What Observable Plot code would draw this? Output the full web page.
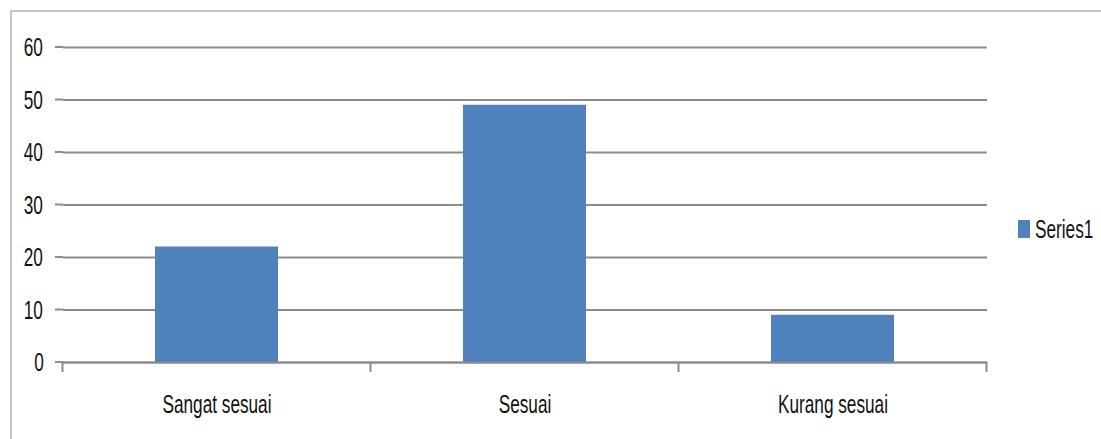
<!DOCTYPE html>
<html>
<head>
<meta charset="utf-8">
<script src="https://cdn.jsdelivr.net/npm/d3@7"></script>
<script src="https://cdn.jsdelivr.net/npm/@observablehq/plot@0.6"></script>
<style>
  html, body { margin: 0; padding: 0; background: #fff; }
  #wrap { position: relative; width: 1101px; height: 439px; overflow: hidden; font-family: "Liberation Sans", Arial, sans-serif; }
  #frame { position: absolute; left: 10px; top: 10px; width: 1200px; height: 600px; border: 2px solid #c4c4c4; box-sizing: border-box; }
  #chart { position: absolute; left: 0; top: 0; }
  #legend { position: absolute; left: 1018px; top: 220px; height: 18px; display: flex; align-items: center; font-size: 20px; color: #111; }
  #legend .sw { width: 12px; height: 18px; background: #4F81BD; margin-right: 5px; }
  #legend span { display: inline-block; transform: scale(0.86, 1.3); transform-origin: left center; }
</style>
</head>
<body>
<div id="wrap">
  <div id="frame"></div>
  <div id="chart"></div>
  <div id="legend"><div class="sw"></div><span></span></div>
</div>
<script>
const categories = ["Sangat sesuai", "Sesuai", "Kurang sesuai"];
const values = [22, 49, 9];
const yTicks = [0, 10, 20, 30, 40, 50, 60];
const seriesName = "Series1";

const data = categories.map((c, i) => ({category: c, value: values[i]}));

const chart = Plot.plot({
  width: 1101,
  height: 439,
  marginLeft: 63,
  marginRight: 114,
  marginTop: 47,
  marginBottom: 77,
  style: {fontFamily: "'Liberation Sans', Arial, sans-serif", fontSize: "20px", color: "#111", background: "transparent"},
  x: {domain: categories, paddingInner: 0.6, paddingOuter: 0.3, label: null},
  y: {domain: [0, 60], ticks: yTicks, label: null},
  marks: [
    Plot.gridY(yTicks, {stroke: "#8c8c8c", strokeOpacity: 1, strokeWidth: 2}),
    Plot.barY(data, {x: "category", y: "value", fill: "#4F81BD"}),
    Plot.axisY({ticks: yTicks, tickSize: 0, tickPadding: 19, fontSize: 20}),
    Plot.axisX({tickSize: 0, tickPadding: 34, fontSize: 20}),
    Plot.ruleY([0], {stroke: "#8c8c8c", strokeWidth: 2}),
    Plot.ruleX([0], {frameAnchor: "left", y1: 0, y2: 60, stroke: "#8c8c8c", strokeWidth: 2})
  ]
});
document.getElementById("chart").appendChild(chart);

const xs = chart.scale("x");
const ys = chart.scale("y");
const svg = d3.select(chart);
const step = xs.step;
const bounds = categories.map(c => xs.apply(c) - (step - xs.bandwidth) / 2);
bounds.push(bounds[bounds.length - 1] + step);
svg.append("g").selectAll("line").data(bounds).join("line")
  .attr("x1", d => d).attr("x2", d => d)
  .attr("y1", ys.apply(0)).attr("y2", ys.apply(0) + 10)
  .attr("stroke", "#8c8c8c").attr("stroke-width", 2);
svg.append("g").selectAll("line").data(yTicks).join("line")
  .attr("x1", 55).attr("x2", 63)
  .attr("y1", d => ys.apply(d)).attr("y2", d => ys.apply(d))
  .attr("stroke", "#8c8c8c").attr("stroke-width", 2);

// condense/stretch text to mimic the tall narrow original font
const sx = 0.86, sy = 1.32;
chart.querySelectorAll("text").forEach(t => {
  const parent = t.parentNode;
  const r = t.getBoundingClientRect();
  const cx0 = r.left + r.width / 2, cy0 = r.top + r.height / 2;
  const pt = chart.createSVGPoint();
  pt.x = cx0; pt.y = cy0;
  const p = pt.matrixTransform(parent.getScreenCTM().inverse());
  const g = document.createElementNS("http://www.w3.org/2000/svg", "g");
  g.setAttribute("transform", `translate(${p.x},${p.y}) scale(${sx},${sy}) translate(${-p.x},${-p.y})`);
  parent.insertBefore(g, t);
  g.appendChild(t);
});
document.querySelector("#legend span").textContent = seriesName;
</script>
</body>
</html>
